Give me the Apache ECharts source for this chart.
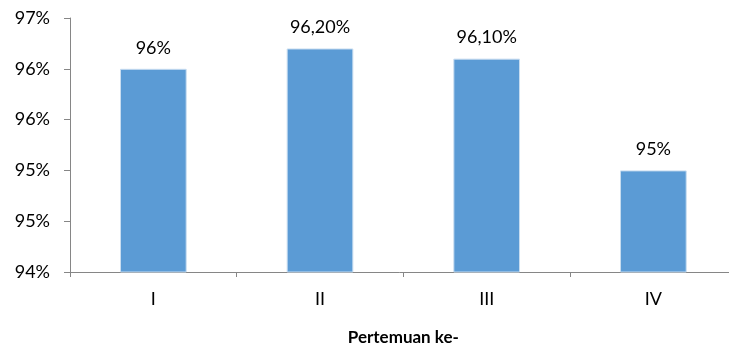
<!DOCTYPE html>
<html>
<head>
<meta charset="utf-8">
<script src="https://cdn.jsdelivr.net/npm/echarts@6/dist/echarts.min.js"></script>
<style>
  html, body { margin: 0; padding: 0; background: #fff; }
  #chart { width: 729px; height: 347px; }
</style>
</head>
<body>
<div id="chart"></div>
<script>
// Meeting categories and attendance percentages
const categories = ['I', 'II', 'III', 'IV'];
const values = [96, 96.2, 96.1, 95];
const valueLabels = ['96%', '96,20%', '96,10%', '95%'];

// Y axis scale
const yMin = 94;
const yMax = 96.5;
const yStep = 0.5;

const FONT = 'Lato';
const AXIS_COLOR = '#868686';

const chart = echarts.init(document.getElementById('chart'));
chart.setOption({
  animation: false,
  grid: { left: 70, top: 18, bottom: 75, width: 666.7, containLabel: false, outerBoundsMode: 'none' },
  xAxis: {
    type: 'category',
    data: categories,
    name: 'Pertemuan ke-',
    nameLocation: 'middle',
    nameGap: 57,
    nameTextStyle: { fontFamily: FONT, fontSize: 17, fontWeight: 'bold', color: '#000' },
    axisLine: { lineStyle: { color: AXIS_COLOR, width: 1 } },
    axisTick: { show: true, length: 5, alignWithLabel: false, lineStyle: { color: AXIS_COLOR } },
    axisLabel: { fontFamily: FONT, fontSize: 18, color: '#000', margin: 18 }
  },
  yAxis: {
    type: 'value',
    min: yMin,
    max: yMax,
    interval: yStep,
    splitLine: { show: false },
    axisLine: { show: true, lineStyle: { color: AXIS_COLOR, width: 1 } },
    axisTick: { show: true, length: 6, lineStyle: { color: AXIS_COLOR } },
    axisLabel: {
      fontFamily: FONT, fontSize: 18, color: '#000', margin: 20,
      formatter: v => Math.round(v) + '%'
    }
  },
  series: [{
    type: 'bar',
    data: values,
    barWidth: '40%',
    itemStyle: { color: '#5B9BD5', borderColor: '#C9DDF0', borderWidth: 1 },
    label: {
      show: true,
      position: 'top',
      distance: 12,
      fontFamily: FONT,
      fontSize: 18,
      color: '#000',
      formatter: p => valueLabels[p.dataIndex]
    }
  }]
});
</script>
</body>
</html>
